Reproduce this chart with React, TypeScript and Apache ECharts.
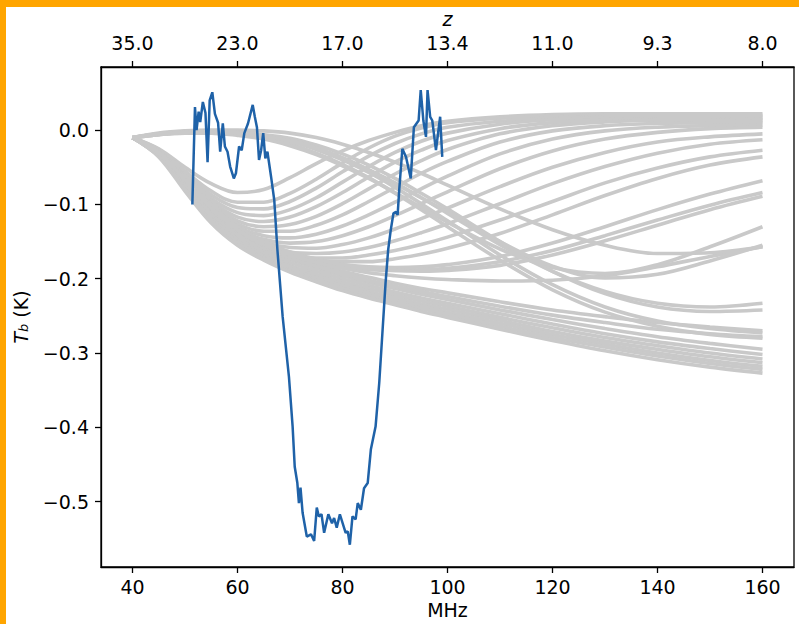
import React, { useEffect, useRef } from 'react';
import * as echarts from 'echarts';

// ---------- data ----------
const freqGrid = [40, 45, 50, 55, 60, 65, 70, 75, 80, 85, 90, 95, 100, 110, 120, 130, 140, 150, 160];

const coolingModels = [
  [-0.010,-0.031,-0.070,-0.110,-0.140,-0.160,-0.174,-0.186,-0.196,-0.205,-0.213,-0.221,-0.228,-0.242,-0.255,-0.267,-0.278,-0.287,-0.295],
  [-0.010,-0.032,-0.073,-0.114,-0.144,-0.164,-0.178,-0.190,-0.200,-0.209,-0.218,-0.226,-0.233,-0.247,-0.261,-0.274,-0.285,-0.294,-0.302],
  [-0.010,-0.033,-0.075,-0.117,-0.147,-0.167,-0.182,-0.194,-0.204,-0.213,-0.222,-0.230,-0.237,-0.252,-0.266,-0.279,-0.290,-0.300,-0.308],
  [-0.010,-0.034,-0.077,-0.119,-0.149,-0.169,-0.184,-0.196,-0.207,-0.217,-0.226,-0.234,-0.241,-0.256,-0.271,-0.284,-0.295,-0.305,-0.313],
  [-0.010,-0.035,-0.079,-0.121,-0.151,-0.171,-0.186,-0.199,-0.210,-0.220,-0.229,-0.237,-0.245,-0.260,-0.275,-0.288,-0.300,-0.310,-0.318],
  [-0.010,-0.035,-0.080,-0.123,-0.153,-0.173,-0.189,-0.202,-0.213,-0.223,-0.232,-0.240,-0.248,-0.264,-0.279,-0.292,-0.304,-0.314,-0.322],
  [-0.010,-0.036,-0.082,-0.125,-0.155,-0.175,-0.191,-0.204,-0.216,-0.226,-0.235,-0.244,-0.252,-0.268,-0.283,-0.297,-0.309,-0.319,-0.327],
  [-0.010,-0.029,-0.066,-0.105,-0.134,-0.154,-0.168,-0.180,-0.190,-0.198,-0.206,-0.213,-0.219,-0.231,-0.242,-0.251,-0.259,-0.265,-0.270],
  [-0.010,-0.030,-0.068,-0.107,-0.137,-0.157,-0.171,-0.183,-0.193,-0.202,-0.210,-0.217,-0.224,-0.237,-0.249,-0.259,-0.268,-0.274,-0.278],
];

const earlyTroughModels = [
  [-0.010,-0.025,-0.050,-0.072,-0.084,-0.080,-0.064,-0.045,-0.028,-0.014,-0.003,0.006,0.012,0.018,0.021,0.022,0.022,0.022,0.022],
  [-0.010,-0.026,-0.055,-0.082,-0.097,-0.097,-0.085,-0.066,-0.044,-0.024,-0.008,0.003,0.010,0.016,0.019,0.020,0.020,0.020,0.020],
  [-0.010,-0.027,-0.058,-0.087,-0.104,-0.106,-0.096,-0.078,-0.056,-0.035,-0.018,-0.005,0.004,0.012,0.016,0.018,0.018,0.018,0.018],
  [-0.010,-0.028,-0.061,-0.092,-0.111,-0.115,-0.107,-0.091,-0.070,-0.049,-0.030,-0.015,-0.004,0.008,0.014,0.016,0.016,0.016,0.016],
  [-0.010,-0.029,-0.063,-0.096,-0.117,-0.123,-0.117,-0.103,-0.084,-0.063,-0.043,-0.027,-0.014,0.002,0.010,0.014,0.015,0.015,0.014],
  [-0.010,-0.030,-0.065,-0.099,-0.122,-0.130,-0.127,-0.116,-0.099,-0.079,-0.059,-0.041,-0.026,-0.005,0.006,0.011,0.013,0.013,0.012],
  [-0.010,-0.030,-0.066,-0.101,-0.126,-0.136,-0.136,-0.128,-0.114,-0.096,-0.077,-0.058,-0.042,-0.016,-0.001,0.006,0.009,0.010,0.010],
  [-0.010,-0.031,-0.068,-0.104,-0.130,-0.142,-0.145,-0.140,-0.129,-0.114,-0.097,-0.079,-0.062,-0.032,-0.012,-0.001,0.004,0.006,0.007],
  [-0.010,-0.031,-0.069,-0.106,-0.133,-0.147,-0.152,-0.150,-0.142,-0.130,-0.115,-0.099,-0.083,-0.052,-0.028,-0.012,-0.003,0.002,0.004],
  [-0.010,-0.032,-0.070,-0.108,-0.136,-0.151,-0.158,-0.159,-0.154,-0.145,-0.133,-0.119,-0.105,-0.076,-0.050,-0.030,-0.016,-0.009,-0.005],
  [-0.010,-0.032,-0.071,-0.109,-0.138,-0.155,-0.164,-0.166,-0.164,-0.158,-0.149,-0.138,-0.126,-0.099,-0.072,-0.049,-0.031,-0.019,-0.013],
  [-0.010,-0.033,-0.072,-0.111,-0.140,-0.158,-0.168,-0.172,-0.172,-0.168,-0.162,-0.154,-0.144,-0.121,-0.096,-0.071,-0.051,-0.036,-0.027],
  [-0.010,-0.031,-0.069,-0.107,-0.136,-0.155,-0.167,-0.174,-0.177,-0.177,-0.173,-0.167,-0.159,-0.139,-0.114,-0.088,-0.065,-0.047,-0.036],
  [-0.010,-0.030,-0.066,-0.104,-0.133,-0.153,-0.166,-0.175,-0.181,-0.184,-0.185,-0.184,-0.181,-0.170,-0.152,-0.130,-0.107,-0.086,-0.068],
  [-0.010,-0.031,-0.068,-0.106,-0.135,-0.155,-0.169,-0.178,-0.184,-0.188,-0.189,-0.188,-0.186,-0.177,-0.162,-0.142,-0.121,-0.101,-0.084],
  [-0.010,-0.029,-0.064,-0.101,-0.130,-0.150,-0.164,-0.174,-0.181,-0.186,-0.189,-0.190,-0.189,-0.182,-0.168,-0.149,-0.128,-0.107,-0.089],
  [-0.010,-0.030,-0.067,-0.105,-0.134,-0.154,-0.168,-0.178,-0.186,-0.192,-0.196,-0.199,-0.201,-0.203,-0.202,-0.196,-0.184,-0.170,-0.157],
];

const lateTroughModels = [
  [-0.010,-0.004,-0.001,0.000,0.000,-0.001,-0.004,-0.010,-0.019,-0.030,-0.043,-0.058,-0.074,-0.106,-0.134,-0.155,-0.166,-0.165,-0.157],
  [-0.010,-0.005,-0.002,-0.002,-0.004,-0.008,-0.015,-0.026,-0.040,-0.057,-0.077,-0.099,-0.122,-0.168,-0.208,-0.238,-0.257,-0.267,-0.273],
  [-0.010,-0.006,-0.004,-0.004,-0.006,-0.011,-0.019,-0.031,-0.046,-0.064,-0.085,-0.107,-0.130,-0.175,-0.215,-0.245,-0.264,-0.275,-0.280],
  [-0.010,-0.005,-0.002,-0.002,-0.003,-0.006,-0.011,-0.020,-0.032,-0.047,-0.065,-0.085,-0.106,-0.150,-0.190,-0.220,-0.238,-0.244,-0.242],
  [-0.010,-0.006,-0.003,-0.003,-0.004,-0.008,-0.014,-0.024,-0.037,-0.053,-0.071,-0.091,-0.112,-0.154,-0.190,-0.217,-0.233,-0.238,-0.233],
  [-0.010,-0.006,-0.004,-0.004,-0.007,-0.012,-0.021,-0.033,-0.048,-0.065,-0.084,-0.104,-0.124,-0.160,-0.185,-0.193,-0.181,-0.157,-0.130],
  [-0.010,-0.005,-0.003,-0.002,-0.004,-0.008,-0.015,-0.025,-0.038,-0.054,-0.072,-0.091,-0.110,-0.150,-0.183,-0.199,-0.194,-0.176,-0.155],
];

const measuredFreq = [
  51.4,51.9,52.2,52.6,52.9,53.4,53.9,54.3,54.7,55.2,55.7,56.3,56.7,57.2,57.6,58.1,58.6,59.3,59.7,60.3,
  60.8,61.3,62.0,62.9,63.3,63.7,64.1,64.5,64.9,65.3,65.7,66.4,67.0,67.6,68.6,69.8,70.5,70.9,71.4,71.7,
  72.0,72.4,73.2,74.0,74.6,75.1,75.5,76.0,76.5,77.3,78.0,78.4,78.9,79.5,80.2,80.6,81.0,81.4,81.9,82.5,
  82.9,83.5,84.1,84.8,85.4,86.3,87.0,87.6,88.2,88.7,89.2,89.7,90.2,90.5,90.8,91.4,92.1,93.0,93.6,94.1,
  94.5,94.9,95.4,95.9,96.2,96.7,97.1,97.8,98.6,99.0,
];
const measuredTb = [
  -0.100,0.031,0.000,0.025,0.011,0.038,0.023,-0.043,0.040,0.051,0.022,0.010,-0.029,0.009,-0.022,-0.029,-0.049,-0.065,-0.058,-0.022,
  -0.027,-0.004,0.009,0.034,0.018,0.004,-0.040,-0.027,-0.004,-0.038,-0.029,-0.063,-0.094,-0.161,-0.251,-0.332,-0.399,-0.453,-0.475,-0.502,
  -0.481,-0.515,-0.547,-0.544,-0.553,-0.508,-0.520,-0.517,-0.542,-0.517,-0.529,-0.522,-0.535,-0.517,-0.533,-0.542,-0.540,-0.558,-0.520,-0.524,
  -0.502,-0.511,-0.482,-0.475,-0.430,-0.399,-0.340,-0.273,-0.206,-0.161,-0.134,-0.112,-0.110,-0.114,-0.081,-0.025,-0.036,-0.065,0.004,0.009,
  0.013,0.054,0.013,-0.009,0.054,0.018,0.013,-0.027,0.018,-0.036,
];

const xTicks = [40, 60, 80, 100, 120, 140, 160];
const zTickLabels = ['35.0', '23.0', '17.0', '13.4', '11.0', '9.3', '8.0'];
const yTicks = [-0.5, -0.4, -0.3, -0.2, -0.1, 0.0];

// ---------- chart ----------
const FONT = 'DejaVu Sans';
const FS = 19;

function fmtY(v: number) {
  const s = Math.abs(v).toFixed(1);
  return v < -1e-9 ? '\u2212' + s : s;
}

function buildOption() {
  const gray = [...coolingModels, ...earlyTroughModels, ...lateTroughModels].map((curve) => ({
    type: 'line',
    data: freqGrid.map((f, i) => [f, curve[i]]),
    smooth: 0.35,
    showSymbol: false,
    silent: true,
    lineStyle: { color: '#c9c9c9', width: 3.6 },
    z: 1,
  }));
  const blue = {
    type: 'line',
    data: measuredFreq.map((f, i) => [f, measuredTb[i]]),
    showSymbol: false,
    silent: true,
    lineStyle: { color: '#1f62a8', width: 2.5 },
    z: 5,
  };
  const axisCommon = {
    type: 'value',
    min: 34,
    max: 166,
    splitLine: { show: false },
    axisLine: { show: true, onZero: false, lineStyle: { color: '#000', width: 1.3 } },
    axisTick: { show: true, customValues: xTicks, length: 6, lineStyle: { color: '#000', width: 1.3 } },
  };
  return {
    animation: false,
    backgroundColor: '#fff',
    grid: {
      left: 95, right: 5, top: 60, bottom: 57,
      outerBoundsMode: 'none',
      containLabel: false,
      show: true, borderColor: '#000', borderWidth: 1.3, backgroundColor: 'transparent',
    },
    xAxis: [
      {
        ...axisCommon,
        position: 'bottom',
        axisLabel: { customValues: xTicks, margin: 10, color: '#000', fontSize: FS, fontFamily: FONT },
        name: 'MHz',
        nameLocation: 'middle',
        nameGap: 30,
        nameTextStyle: { color: '#000', fontSize: FS, fontFamily: FONT },
      },
      {
        ...axisCommon,
        position: 'top',
        axisLabel: {
          customValues: xTicks,
          margin: 15,
          color: '#000',
          fontSize: FS,
          fontFamily: FONT,
          formatter: (v: number) => zTickLabels[xTicks.indexOf(Math.round(v))] ?? '',
        },
        name: 'z',
        nameLocation: 'middle',
        nameGap: 36,
        nameTextStyle: { color: '#000', fontSize: FS, fontFamily: FONT, fontStyle: 'italic' },
      },
    ],
    yAxis: {
      type: 'value',
      min: -0.588,
      max: 0.085,
      splitLine: { show: false },
      axisLine: { show: true, onZero: false, lineStyle: { color: '#000', width: 1.3 } },
      axisTick: { show: true, customValues: yTicks, length: 6, lineStyle: { color: '#000', width: 1.3 } },
      axisLabel: { customValues: yTicks, margin: 12, color: '#000', fontSize: FS, fontFamily: FONT, formatter: fmtY },
      name: '{it|T}{sub|b} (K)',
      nameLocation: 'middle',
      nameGap: 71,
      nameTextStyle: {
        color: '#000',
        fontSize: FS,
        fontFamily: FONT,
        rich: {
          it: { fontStyle: 'italic', fontSize: FS, fontFamily: FONT, color: '#000' },
          sub: { fontStyle: 'italic', fontSize: 13, fontFamily: FONT, color: '#000', verticalAlign: 'bottom', lineHeight: 14 },
        },
      },
    },
    series: [...gray, blue],
  };
}

export default function App() {
  const ref = useRef<HTMLDivElement>(null);
  useEffect(() => {
    if (!ref.current) return;
    const chart = echarts.init(ref.current, null, { renderer: 'svg' });
    chart.setOption(buildOption() as any);
    return () => chart.dispose();
  }, []);
  return (
    <div style={{ position: 'fixed', left: 0, top: 0, width: 799, height: 624, background: '#FFA500', overflow: 'hidden' }}>
      <div ref={ref} style={{ position: 'absolute', left: 6, top: 7, width: 793, height: 617, background: '#fff' }} />
    </div>
  );
}
